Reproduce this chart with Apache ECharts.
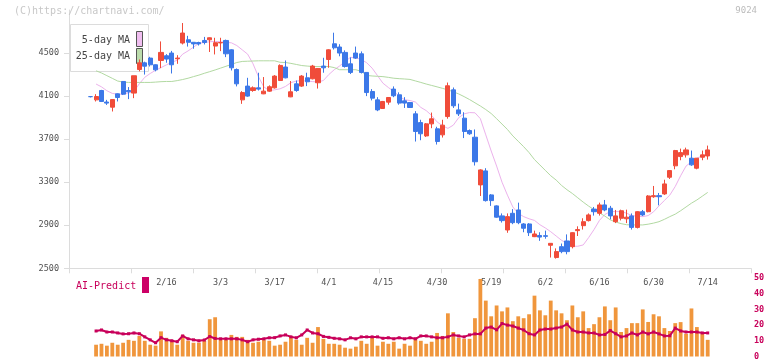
<!DOCTYPE html>
<html>
<head>
<meta charset="utf-8">
<script src="https://cdn.jsdelivr.net/npm/echarts@6/dist/echarts.min.js"></script>
<style>
  html, body { margin: 0; padding: 0; background: #fff; }
  #chart { width: 772px; height: 361px; }
</style>
</head>
<body>
<div id="chart"></div>
<script>
// 日足 (始値・終値・安値・高値)
const opens = [4095,4065,4152,4045,3997,4121,4236,4152,4128,4347, 4409,4453,4391,4431,4475,4500,4447,4593,4623,4600,
  4598,4617,4623,4565,4594,4617,4530,4347,4065,4193, 4152,4177,4121,4146,4177,4245,4370,4093,4214,4193,
  4270,4261,4224,4379,4440,4586,4556,4506,4400,4500, 4493,4320,4143,4065,3985,4044,4165,4112,4056,4040,
  3935,3854,3730,3842,3796,3740,3910,4158,3972,3895, 3780,3718,3275,3405,3182,3080,2987,2856,3011,3042,
  2912,2912,2794,2805,2803,2714,2600,2701,2754,2701, 2850,2896,2943,3050,3011,3089,3058,2933,2965,2960,
  2987,2880,3026,3026,3165,3175,3191,3346,3452,3538, 3554,3523,3430,3532,3544];
const closes = [4095,4096,4050,4035,4068,4087,4118,4140,4289,4409, 4378,4391,4344,4506,4444,4391,4453,4686,4600,4585,
  4585,4598,4642,4596,4598,4493,4363,4214,4133,4100, 4177,4165,4146,4187,4286,4385,4270,4140,4152,4286,
  4233,4379,4357,4363,4530,4549,4500,4375,4320,4453, 4320,4133,4081,3972,4050,4087,4103,4035,4035,3994,
  3771,3750,3842,3889,3678,3830,4196,4010,3935,3771, 3750,3490,3414,3129,3129,2975,2943,2980,2924,2924,
  2872,2831,2819,2790,2797,2732,2655,2655,2655,2831, 2860,2933,2996,3026,3089,3042,2987,2987,3035,2975,
  2880,3026,2996,3172,3175,3165,3284,3408,3594,3575, 3600,3461,3523,3554,3600];
const lows = [4088,4050,4045,4018,3957,4050,4110,4072,4081,4330, 4300,4375,4330,4360,4410,4310,4400,4580,4560,4540,
  4570,4580,4510,4487,4518,4462,4338,4190,4028,4093, 4140,4152,4118,4140,4170,4240,4265,4090,4140,4185,
  4193,4255,4170,4317,4363,4533,4470,4365,4305,4445, 4310,4100,4060,3960,3980,4020,4090,4020,3990,3990,
  3678,3690,3720,3802,3650,3715,3890,3990,3915,3710, 3740,3455,3172,3120,3080,2970,2925,2830,2910,2910,
  2835,2800,2790,2755,2775,2600,2590,2640,2630,2685, 2800,2860,2935,2990,2990,3030,2955,2920,2945,2920,
  2860,2870,2985,3020,3155,3085,3182,3330,3420,3504, 3529,3452,3420,3504,3510];
const highs = [4100,4118,4158,4065,4072,4125,4240,4184,4289,4440, 4420,4465,4395,4608,4490,4520,4480,4779,4660,4600,
  4605,4650,4645,4642,4642,4625,4535,4357,4146,4270, 4190,4317,4277,4200,4295,4395,4431,4240,4245,4295,
  4317,4390,4360,4456,4535,4689,4582,4525,4460,4560, 4515,4320,4165,4090,4055,4090,4190,4135,4090,4045,
  3960,3880,3850,3947,3815,3880,4226,4180,4030,3950, 3790,3790,3420,3430,3190,3085,3010,3010,3050,3110,
  2920,2920,2850,2835,2850,2735,2685,2730,2815,2835, 2890,2965,3010,3070,3110,3135,3080,3042,3045,3045,
  3010,3030,3042,3180,3265,3200,3323,3410,3600,3612, 3621,3594,3525,3594,3640];

// 移動平均線
const ma5 = ['-',4212,4186,4150,4125,4118,4118,4130,4145,4215, 4275,4310,4340,4365,4390,4415,4433,4490,4520,4555,
  4590,4598,4605,4608,4605,4600,4595,4570,4530,4490, 4400,4280,4185,4152,4158,4168,4190,4225,4240,4244,
  4240,4235,4230,4245,4300,4345,4380,4422,4460,4455, 4440,4410,4360,4290,4220,4180,4143,4100,4066,4059,
  4045,3995,3965,3920,3860,3825,3800,3830,3900,3935, 3947,3945,3890,3740,3590,3450,3300,3180,3070,3010,
  2980,2960,2945,2905,2875,2840,2800,2760,2733,2705, 2705,2717,2785,2860,2945,3000,3027,3027,3027,3012,
  2990,2983,2980,2990,3025,3080,3130,3180,3260,3360, 3450,3490,3523,3545,3558];
const ma25 = ['-',4335,4315,4290,4265,4240,4230,4227,4227,4227, 4227,4227,4230,4234,4236,4236,4244,4254,4266,4281,
  4295,4312,4327,4343,4360,4377,4394,4412,4422,4424, 4426,4428,4428,4428,4428,4414,4412,4404,4394,4384,
  4379,4375,4375,4375,4375,4365,4345,4345,4345,4345, 4330,4292,4287,4284,4281,4274,4266,4262,4259,4255,
  4241,4227,4212,4199,4186,4172,4158,4140,4120,4095, 4068,4038,4008,3975,3938,3890,3840,3790,3730,3680,
  3630,3575,3510,3460,3410,3360,3320,3270,3230,3195, 3155,3115,3078,3045,3015,2985,2950,2930,2915,2905,
  2903,2903,2903,2910,2920,2933,2955,2980,3003,3035, 3070,3105,3135,3170,3205];

// 下段: 出来高とAI-Predict
const volume = ['-',7.5,8.1,6.9,8.75,7.5,8.75,10.6,10,13.1, 10,7.5,6.9,16,11.9,10,7.5,13.75,10,8.75,
  8.75,10,23.75,25,10.6,10.6,13.75,12.5,12.5,10.6, 8.75,9.4,10.6,10,6.9,7.5,9.4,13.1,10.6,7.5,
  11.9,8.75,18.75,11.25,8.1,8.1,7.5,5.6,5,6.25, 10,8.1,11.9,6.9,9.4,8.1,9.4,5,8.1,6.9,
  11.9,10,8.1,9.4,15,13.1,27.5,15.6,11.9,11.25, 11.25,24.4,49.4,35.6,25.6,32.5,28.75,31.25,22.5,25.6,
  24.4,26.9,38.75,29.4,26.25,35.6,29.4,27.5,23.1,32.5, 25,28.75,18.1,20.6,25,31.9,23.1,31.25,15.6,18.1,
  21.25,21.25,30,22,26.9,25.6,18.1,16.25,21.25,21.9, 14.4,30.6,18.75,14.4,10.6];
const aiPredict = ['-',16.25,16.9,15.6,15.6,15,14.4,14.5,15,14.5, 12.5,10.6,8.75,12,10.6,10,9.4,13.1,11.25,10.6,
  10,10.5,12.7,11.5,11.25,11.25,11.25,11.25,10.6,9.4, 10.6,11,11.25,11.9,12,13.1,13.75,12.5,11.9,13.75,
  16.9,15,14.5,12.8,12.2,11.6,11.25,10.6,11.9,11.25, 12.5,12.5,12.5,12.5,11.6,11.9,11.25,11.9,11.25,11.9,
  11.25,13.1,13.1,12.5,11.9,11.9,12.5,13.75,13.1,12.5, 13.75,14.4,14.4,18.1,18.75,17,21,20,19.4,18.1,
  16.9,14.5,13.75,16.9,17.5,17.5,18.1,18.75,20.6,16.9, 15.6,15.6,15,15,13.75,14,16.5,14.5,12.5,13.1,
  15,13.75,15.6,14.4,15.6,14.4,13.1,13.2,18.1,16.25, 15.6,15.6,15.6,15,15];

// 目盛りラベル
const dateLabels = ['2/16','3/3','3/17','4/1','4/15','4/30','5/19','6/2','6/16','6/30','7/14'];
const firstLabelDay = 14;
const labelStep = 10;

const slotCount = 127;
const lead = 4;
const font = 'DejaVu Sans Mono';

const pad = (n) => Array(n).fill('-');
const slots = Array(slotCount).fill('');
dateLabels.forEach((d, k) => { slots[lead + firstLabelDay + k * labelStep] = d; });

const candles = opens.map((o, i) => [o, closes[i], lows[i], highs[i]]);

const chart = echarts.init(document.getElementById('chart'), null, { renderer: 'canvas' });

const option = {
    animation: false,
    backgroundColor: '#fff',
    grid: [
        { left: 69, right: 21, top: 10, height: 258.3 },
        { left: 69, right: 21, top: 278, height: 80 }
    ],
    xAxis: [
        {
            type: 'category', gridIndex: 0, data: slots, boundaryGap: false,
            axisLine: { show: false }, axisTick: { show: false }, splitLine: { show: false },
            axisLabel: { interval: 0, margin: 10, color: '#505050', fontFamily: font, fontSize: 8.5 }
        },
        {
            type: 'value', gridIndex: 0, min: 0, max: 11, interval: 1, position: 'bottom',
            axisLine: { show: true, lineStyle: { color: '#dcdcdc', width: 1 } },
            axisTick: { show: true, length: 5, lineStyle: { color: '#dcdcdc' } },
            axisLabel: { show: false }, splitLine: { show: false }
        },
        {
            type: 'category', gridIndex: 1, data: slots, boundaryGap: false, show: false
        }
    ],
    yAxis: [
        {
            type: 'value', gridIndex: 0, min: 2500, max: 4900, interval: 400, position: 'left',
            axisLine: { show: true, lineStyle: { color: '#dcdcdc', width: 1 } },
            axisTick: { show: true, length: 5, lineStyle: { color: '#dcdcdc' } },
            axisLabel: {
                showMaxLabel: false, margin: 10, color: '#505050', fontFamily: font, fontSize: 8.5,
                formatter: (v) => String(v)
            },
            splitLine: { show: false }
        },
        {
            type: 'value', gridIndex: 1, min: 0, max: 50, interval: 10, position: 'right',
            axisLine: { show: false }, axisTick: { show: false }, splitLine: { show: false },
            axisLabel: { margin: 3, color: '#c8005a', fontFamily: font, fontSize: 8.5, fontWeight: 'bold' }
        }
    ],
    series: [
        {
            type: 'candlestick', xAxisIndex: 0, yAxisIndex: 0,
            data: pad(lead).concat(candles),
            barWidth: 4.6,
            itemStyle: {
                color: '#f04c3a', color0: '#3c78e8',
                borderColor: '#f04c3a', borderColor0: '#3c78e8', borderWidth: 1
            }
        },
        {
            name: '5-day MA', type: 'line', xAxisIndex: 0, yAxisIndex: 0,
            data: pad(lead).concat(ma5), symbol: 'none',
            lineStyle: { color: '#ecb2ec', width: 1 }, z: 1
        },
        {
            name: '25-day MA', type: 'line', xAxisIndex: 0, yAxisIndex: 0,
            data: pad(lead).concat(ma25), symbol: 'none',
            lineStyle: { color: '#b2d9a2', width: 1 }, z: 1
        },
        {
            type: 'bar', xAxisIndex: 2, yAxisIndex: 1,
            data: pad(lead).concat(volume), barWidth: 3.8,
            itemStyle: { color: '#f0963c' }
        },
        {
            type: 'line', xAxisIndex: 2, yAxisIndex: 1,
            data: pad(lead).concat(aiPredict),
            symbol: 'rect', symbolSize: 3, showSymbol: true,
            itemStyle: { color: '#c8005a' },
            lineStyle: { color: '#c8005a', width: 2 }
        }
    ],
    graphic: [
        { type: 'text', left: 14, top: 6, z: 1,
          style: { text: '(C)https://chartnavi.com/', fill: '#c8c8c8', font: '10px "DejaVu Sans Mono"' } },
        { type: 'text', right: 15, top: 6, z: 1,
          style: { text: '9024', fill: '#bcbcbc', font: '9px "DejaVu Sans Mono"' } },
        // 凡例
        { type: 'rect', z: 1, shape: { x: 70.5, y: 24.5, width: 78, height: 47 },
          style: { fill: '#fff', stroke: '#dcdcdc', lineWidth: 1 } },
        { type: 'text', z: 1, x: 130, y: 40.5,
          style: { text: '5-day MA', fill: '#444', font: '10px "DejaVu Sans Mono"', textAlign: 'right', textVerticalAlign: 'middle' } },
        { type: 'text', z: 1, x: 130, y: 56.5,
          style: { text: '25-day MA', fill: '#444', font: '10px "DejaVu Sans Mono"', textAlign: 'right', textVerticalAlign: 'middle' } },
        { type: 'rect', z: 1, shape: { x: 136.5, y: 31.5, width: 6, height: 15 },
          style: { fill: '#f0bef0', stroke: '#555', lineWidth: 1 } },
        { type: 'rect', z: 1, shape: { x: 136.5, y: 48.5, width: 6, height: 15 },
          style: { fill: '#bcdcac', stroke: '#555', lineWidth: 1 } },
        // AI-Predict ラベル
        { type: 'text', z: 1, x: 76, y: 286,
          style: { text: 'AI-Predict', fill: '#c8005a', font: '10px "DejaVu Sans Mono"', textVerticalAlign: 'middle' } },
        { type: 'rect', z: 1, shape: { x: 142, y: 277, width: 7, height: 16 },
          style: { fill: '#cc0066' } }
    ]
};

chart.setOption(option);
</script>
</body>
</html>
